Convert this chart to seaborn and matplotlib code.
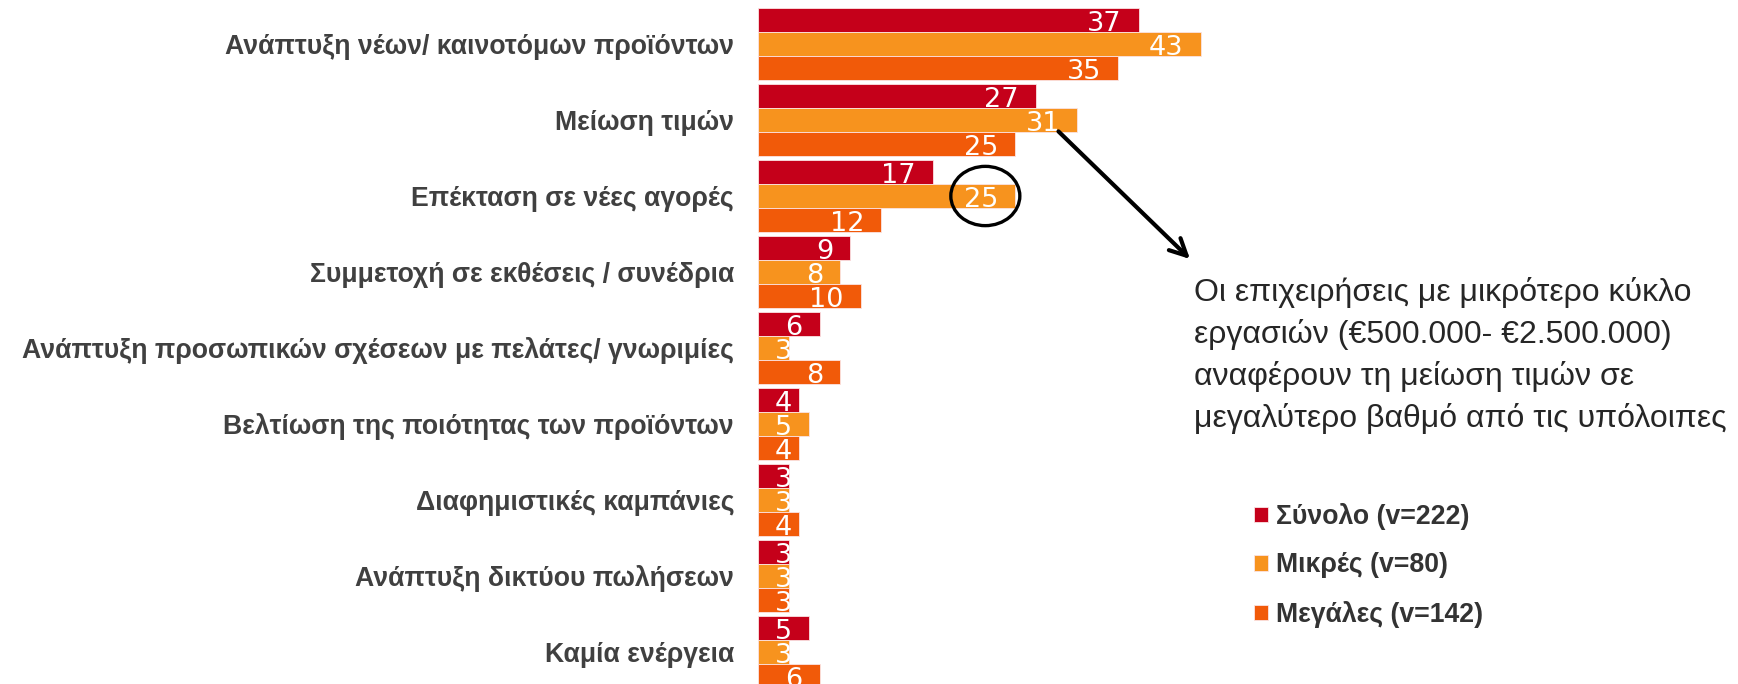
import matplotlib
matplotlib.use("Agg")
import matplotlib.pyplot as plt
from matplotlib.patches import Ellipse
import seaborn as sns
import pandas as pd

# Survey answers (%), one list per company group
categories = [
    "Ανάπτυξη νέων/ καινοτόμων προϊόντων",
    "Μείωση τιμών",
    "Επέκταση σε νέες αγορές",
    "Συμμετοχή σε εκθέσεις / συνέδρια",
    "Ανάπτυξη προσωπικών σχέσεων με πελάτες/ γνωριμίες",
    "Βελτίωση της ποιότητας των προϊόντων",
    "Διαφημιστικές καμπάνιες",
    "Ανάπτυξη δικτύου πωλήσεων",
    "Καμία ενέργεια",
]
groups = ["Σύνολο (v=222)", "Μικρές (v=80)", "Μεγάλες (v=142)"]
total = [37, 27, 17, 9, 6, 4, 3, 3, 5]
small = [43, 31, 25, 8, 3, 5, 3, 3, 3]
large = [35, 25, 12, 10, 8, 4, 4, 3, 6]
colors = ["#C5001A", "#F7931E", "#F15A09"]

note = ("Οι επιχειρήσεις με μικρότερο κύκλο\n"
        "εργασιών (€500.000- €2.500.000)\n"
        "αναφέρουν τη μείωση τιμών σε\n"
        "μεγαλύτερο βαθμό από τις υπόλοιπες")

rows = []
for g, vals in zip(groups, [total, small, large]):
    for c, v in zip(categories, vals):
        rows.append({"category": c, "group": g, "value": v})
df = pd.DataFrame(rows)

sns.set_theme(style="white")
plt.rcParams["font.family"] = ["Liberation Sans", "DejaVu Sans"]

W, H = 1738, 684
fig = plt.figure(figsize=(W / 100, H / 100), dpi=100)
fig.patch.set_facecolor("white")

px = 10.3          # pixels per percentage point
x0 = 757.7         # left edge of the bars
xmax = 60
ax = fig.add_axes([x0 / W, -6 / H, xmax * px / W, 684 / H])

sns.barplot(data=df, y="category", x="value", hue="group", orient="h",
            palette=colors, saturation=1, width=0.94, gap=0,
            order=categories, hue_order=groups, ax=ax,
            edgecolor="#fbe3e3", linewidth=0.6)

ax.set_xlim(0, xmax)
ax.set_ylim(8.5, -0.5)
for s in ax.spines.values():
    s.set_visible(False)
ax.set_xlabel("")
ax.set_ylabel("")
ax.set_xticks([])
ax.tick_params(axis="y", length=0, pad=17)
for lab in ax.get_yticklabels():
    lab.set_fontsize(19.2)
    lab.set_fontweight("bold")
    lab.set_color("#404040")

# value labels inside the bar ends
for cont in ax.containers:
    for bar in cont:
        v = bar.get_width()
        yc = bar.get_y() + bar.get_height() / 2
        ax.annotate(f"{v:.0f}", xy=(max(v, 5), yc), xytext=(-17, -11),
                    textcoords="offset pixels", ha="right", va="baseline",
                    color="white", fontsize=19.5, family="DejaVu Sans")

# legend
handles, labels = ax.get_legend_handles_labels()
ax.legend_.remove()
leg = fig.legend(handles, labels, loc="center left",
                 bbox_to_anchor=(1241 / W, 1 - 565.5 / H), frameon=False,
                 prop={"weight": "bold", "size": 19.2},
                 handlelength=0.52, handleheight=0.52, handletextpad=0.3,
                 labelspacing=0.85, borderpad=0)
for t in leg.get_texts():
    t.set_color("#333333")

# highlight of the small firms' value for new markets
ax.add_patch(Ellipse((22.1, 2.0), 6.7, 0.78, fill=False, edgecolor="black",
                     linewidth=2.4, zorder=5))

# arrow pointing to the note
ax.annotate("", xy=(1190 / W, 1 - 259 / H), xycoords="figure fraction",
            xytext=(29.2, 1.15), textcoords="data",
            arrowprops=dict(arrowstyle="->", lw=3, color="black",
                            mutation_scale=30, shrinkA=0, shrinkB=0))

fig.text(1194 / W, 1 - 277.5 / H, note, ha="left", va="top", fontsize=23,
         color="#262626", linespacing=1.45)

fig.savefig("out.png", dpi=100, facecolor="white")
